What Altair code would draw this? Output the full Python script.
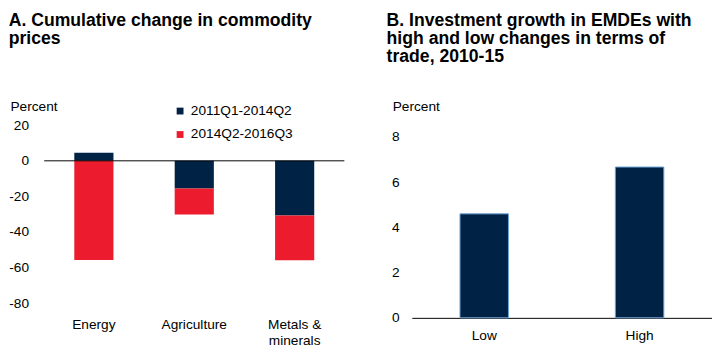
import altair as alt
import pandas as pd

# Panel A data
commodities = ["Energy", "Agriculture", "Metals & minerals"]
period_1 = [4.5, -15.5, -30.7]      # 2011Q1-2014Q2
period_2 = [-55.8, -14.6, -25.2]    # 2014Q2-2016Q3
series_names = ["2011Q1-2014Q2", "2014Q2-2016Q3"]

# Panel B data
tot_groups = ["Low", "High"]
investment_growth = [4.6, 6.67]

a_y_ticks = [-80, -60, -40, -20, 0, 20]
b_y_ticks = [0, 2, 4, 6, 8]
zero_line = [0]

NAVY = "#002345"
RED = "#ec1c2e"
FONT = "Liberation Sans"

rows = []
for i, c in enumerate(commodities):
    rows.append({"cat": c, "series": series_names[0], "value": period_1[i], "order": 0})
    rows.append({"cat": c, "series": series_names[1], "value": period_2[i], "order": 1})
df_a = pd.DataFrame(rows)
df_b = pd.DataFrame({"grp": tot_groups, "value": investment_growth})
df_zero = pd.DataFrame({"z": zero_line})

bars_a = alt.Chart(df_a).mark_bar().encode(
    x=alt.X("cat:N", sort=commodities, title=None,
            scale=alt.Scale(paddingInner=0.61, paddingOuter=0.30),
            axis=alt.Axis(labelAngle=0, domain=False, ticks=False, labelPadding=15,
                          labelFontSize=14, labelColor="#000", labelLineHeight=16,
                          labelBaseline="top",
                          labelExpr="datum.label == 'Metals & minerals' ? ['Metals &', 'minerals'] : datum.label")),
    y=alt.Y("value:Q", stack="zero",
            scale=alt.Scale(domain=[-80, 20], nice=False),
            axis=alt.Axis(values=a_y_ticks, grid=False, domain=False, ticks=False,
                          labelOverlap=False, labelExpr="'' + datum.value",
                          labelPadding=16, labelFontSize=14, labelColor="#000",
                          title="Percent", titleAngle=0, titleAlign="left",
                          titleBaseline="middle", titleX=-35, titleY=-19,
                          titleFontSize=14, titleFontWeight="normal", titleColor="#000")),
    color=alt.Color("series:N", sort=series_names,
                    scale=alt.Scale(domain=series_names, range=[NAVY, RED]),
                    legend=alt.Legend(title=None, orient="none", legendX=132, legendY=-21.5,
                                      symbolType="square", symbolSize=49, symbolStrokeWidth=0,
                                      labelFontSize=14, labelColor="#000", rowPadding=10,
                                      labelOffset=4)),
    order=alt.Order("order:Q"),
)
zero_a = alt.Chart(df_zero).mark_rule(color="#000", strokeWidth=1).encode(
    y=alt.Y("z:Q", axis=None)
)

chart_a = alt.layer(bars_a, zero_a).resolve_axis(y="independent").properties(
    width=307, height=182,
    title=alt.TitleParams(["A. Cumulative change in commodity", "prices"], anchor="start",
                          frame="bounds", fontSize=18, font=FONT, fontWeight="bold",
                          lineHeight=18.5, offset=53, color="#000"),
)

chart_b = alt.Chart(df_b).mark_bar(stroke="#6fa3d8", strokeWidth=1, color=NAVY).encode(
    x=alt.X("grp:N", sort=tot_groups, title=None,
            scale=alt.Scale(paddingInner=0.688, paddingOuter=0.31),
            axis=alt.Axis(labelAngle=0, domain=True, domainColor="#000", domainWidth=1,
                          ticks=False, labelPadding=11, labelFontSize=14, labelColor="#000")),
    y=alt.Y("value:Q", scale=alt.Scale(domain=[0, 8.519], nice=False),
            axis=alt.Axis(values=b_y_ticks, grid=False, domain=False, ticks=False,
                          labelOverlap=False,
                          labelPadding=13, labelFontSize=14, labelColor="#000",
                          title="Percent", titleAngle=0, titleAlign="left",
                          titleBaseline="middle", titleX=-20, titleY=-19,
                          titleFontSize=14, titleFontWeight="normal", titleColor="#000")),
).properties(
    width=307, height=197,
    title=alt.TitleParams(["B. Investment growth in EMDEs with",
                           "high and low changes in terms of", "trade, 2010-15"],
                          anchor="start", frame="bounds", fontSize=18, font=FONT,
                          fontWeight="bold", lineHeight=18.5, offset=35, dx=-5, color="#000"),
)

chart = alt.hconcat(chart_a, chart_b, spacing=42).properties(
    padding={"left": 0, "top": 0, "right": 0, "bottom": 0}
).configure(font=FONT).configure_view(stroke=None)

chart.save("out.html", embed_options={"renderer": "svg", "actions": False})
